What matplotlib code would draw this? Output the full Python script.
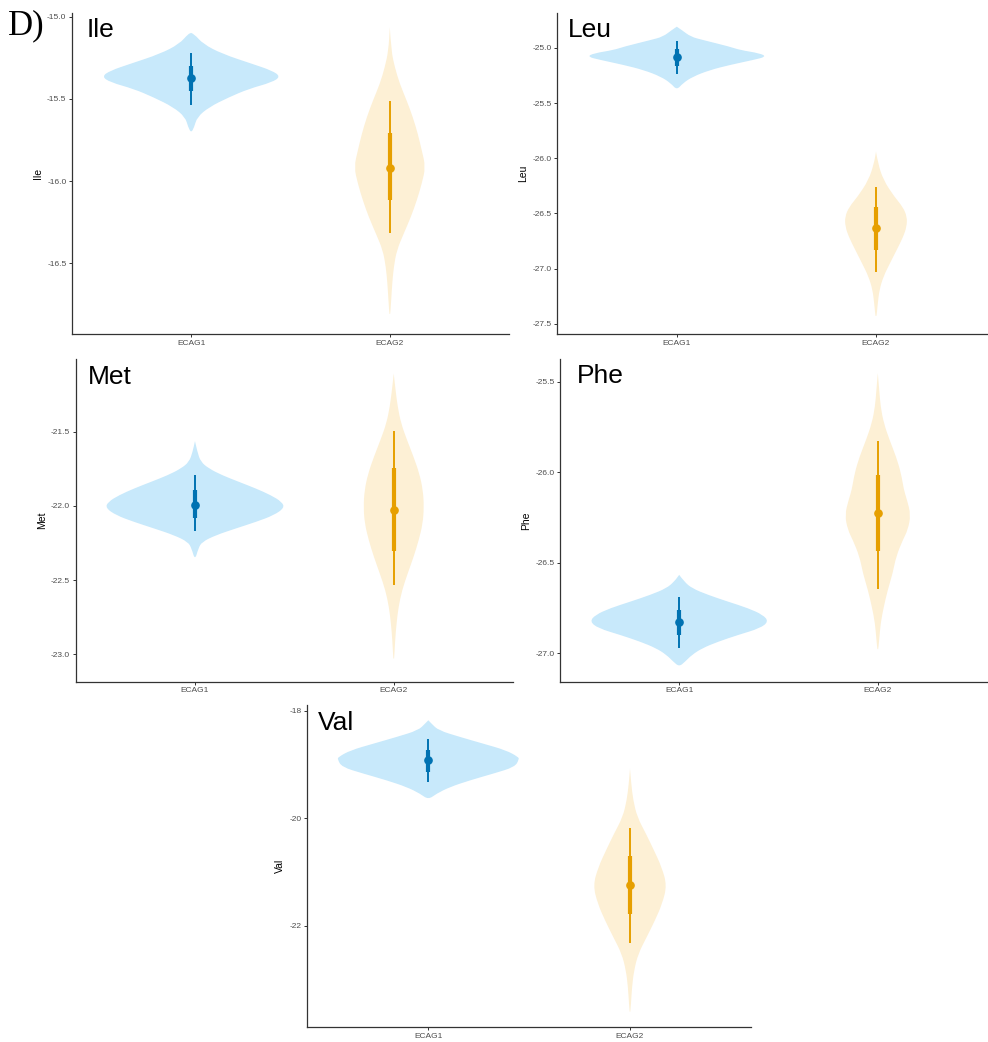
import matplotlib
matplotlib.use("Agg")
import matplotlib.pyplot as plt
from matplotlib.path import Path
from matplotlib.patches import PathPatch

plt.rcParams['font.family'] = ['Liberation Sans', 'DejaVu Sans']
plt.rcParams['axes.unicode_minus'] = False

groups = ["ECAG1", "ECAG2"]

# violin outlines: value along y, half width in category units
ile_g1_y = [-15.099, -15.105, -15.166, -15.226, -15.287, -15.328, -15.364, -15.399, -15.439, -15.49, -15.55, -15.611, -15.672, -15.706]
ile_g1_w = [0, 0.015, 0.06, 0.156, 0.307, 0.407, 0.45, 0.407, 0.29, 0.19, 0.09, 0.03, 0.015, 0]
ile_g2_y = [-15.065, -15.206, -15.307, -15.408, -15.51, -15.611, -15.712, -15.813, -15.914, -16.015, -16.117, -16.218, -16.319, -16.42, -16.521, -16.622, -16.723, -16.845]
ile_g2_w = [0, 0.007, 0.025, 0.05, 0.085, 0.116, 0.141, 0.161, 0.18, 0.161, 0.136, 0.106, 0.07, 0.035, 0.02, 0.012, 0.007, 0]

leu_g1_y = [-24.807, -24.837, -24.898, -24.927, -24.988, -25.018, -25.048, -25.079, -25.109, -25.154, -25.2, -25.26, -25.32, -25.381]
leu_g1_w = [0, 0.025, 0.07, 0.13, 0.266, 0.316, 0.417, 0.45, 0.382, 0.266, 0.166, 0.08, 0.03, 0]
leu_g2_y = [-25.94, -26.046, -26.197, -26.348, -26.439, -26.529, -26.62, -26.711, -26.831, -26.952, -27.073, -27.194, -27.315, -27.481]
leu_g2_w = [0, 0.01, 0.037, 0.092, 0.134, 0.156, 0.154, 0.137, 0.104, 0.07, 0.037, 0.017, 0.009, 0]

met_g1_y = [-21.564, -21.636, -21.703, -21.748, -21.793, -21.838, -21.883, -21.928, -21.973, -22.013, -22.063, -22.108, -22.152, -22.197, -22.243, -22.287, -22.366]
met_g1_w = [0, 0.012, 0.029, 0.07, 0.136, 0.221, 0.307, 0.382, 0.437, 0.45, 0.397, 0.307, 0.206, 0.106, 0.035, 0.017, 0]
met_g2_y = [-21.108, -21.22, -21.333, -21.445, -21.557, -21.67, -21.782, -21.894, -22.007, -22.119, -22.231, -22.344, -22.456, -22.568, -22.681, -22.793, -22.905, -23.085]
met_g2_w = [0, 0.009, 0.02, 0.037, 0.067, 0.1, 0.129, 0.147, 0.152, 0.146, 0.126, 0.1, 0.07, 0.042, 0.024, 0.014, 0.007, 0]

phe_g1_y = [-26.567, -26.604, -26.641, -26.678, -26.715, -26.751, -26.788, -26.825, -26.862, -26.899, -26.936, -26.972, -27.009, -27.046, -27.074]
phe_g1_w = [0, 0.025, 0.064, 0.146, 0.246, 0.347, 0.422, 0.45, 0.407, 0.296, 0.196, 0.116, 0.064, 0.03, 0]
phe_g2_y = [-25.453, -25.545, -25.638, -25.729, -25.822, -25.914, -26.006, -26.098, -26.153, -26.236, -26.319, -26.374, -26.466, -26.558, -26.65, -26.743, -26.834, -26.927, -27.0]
phe_g2_w = [0, 0.007, 0.014, 0.03, 0.059, 0.092, 0.117, 0.131, 0.147, 0.166, 0.151, 0.126, 0.092, 0.075, 0.05, 0.03, 0.014, 0.007, 0]

val_g1_y = [-18.178, -18.24, -18.364, -18.488, -18.612, -18.736, -18.86, -18.903, -19.046, -19.169, -19.294, -19.418, -19.541, -19.652]
val_g1_w = [0, 0.016, 0.05, 0.157, 0.272, 0.386, 0.446, 0.45, 0.429, 0.322, 0.206, 0.107, 0.041, 0]
val_g2_y = [-19.076, -19.355, -19.665, -19.976, -20.284, -20.595, -20.905, -21.245, -21.586, -21.896, -22.206, -22.515, -22.825, -23.136, -23.444, -23.662]
val_g2_w = [0, 0.006, 0.016, 0.036, 0.079, 0.119, 0.157, 0.183, 0.16, 0.124, 0.083, 0.041, 0.02, 0.01, 0.005, 0]

# point intervals: median, inner (lo, hi), outer (lo, hi)
ile_med = [-15.374, -15.918]
ile_in = [(-15.453, -15.303), (-16.117, -15.708)]
ile_out = [(-15.536, -15.223), (-16.315, -15.514)]
leu_med = [-25.084, -26.629]
leu_in = [(-25.163, -25.012), (-26.831, -26.444)]
leu_out = [(-25.238, -24.937), (-27.028, -26.257)]
met_med = [-21.991, -22.029]
met_in = [(-22.081, -21.894), (-22.303, -21.748)]
met_out = [(-22.171, -21.793), (-22.534, -21.495)]
phe_med = [-26.825, -26.227]
phe_in = [(-26.899, -26.761), (-26.433, -26.015)]
phe_out = [(-26.969, -26.687), (-26.646, -25.827)]
val_med = [-18.909, -21.245]
val_in = [(-19.139, -18.723), (-21.784, -20.706)]
val_out = [(-19.325, -18.519), (-22.31, -20.173)]

ile_ticks = [-15.0, -15.5, -16.0, -16.5]
leu_ticks = [-25.0, -25.5, -26.0, -26.5, -27.0, -27.5]
met_ticks = [-21.5, -22.0, -22.5, -23.0]
phe_ticks = [-25.5, -26.0, -26.5, -27.0]
val_ticks = [-18, -20, -22]

fill_cols = ["#c8e9fb", "#fdf0d5"]
pt_cols = ["#0072b2", "#e69f00"]

W, H = 988, 1042
fig = plt.figure(figsize=(W / 100, H / 100), dpi=100)


def px_axes(x0, y0, x1, y1):
    return fig.add_axes([x0 / W, 1 - y1 / H, (x1 - x0) / W, (y1 - y0) / H])


def smooth_violin(pos, yy, ww):
    # outline: down the right side, back up the left side, smoothed with quadratic curves
    pts = [(pos + w, y) for w, y in zip(ww, yy)] + \
          [(pos - w, y) for w, y in zip(ww[::-1], yy[::-1])][1:]
    verts = [pts[0]]
    codes = [Path.MOVETO]
    for i in range(1, len(pts) - 1):
        mid = ((pts[i][0] + pts[i + 1][0]) / 2, (pts[i][1] + pts[i + 1][1]) / 2)
        verts += [pts[i], mid]
        codes += [Path.CURVE3, Path.CURVE3]
    verts.append(pts[-1])
    codes.append(Path.LINETO)
    return Path(verts, codes)


def panel(rect, name, outlines, med, inner, outer, ticks, ylim, fmt, title_xy):
    ax = px_axes(*rect)
    for i, (yy, ww) in enumerate(outlines):
        pos = i + 1
        ax.add_patch(PathPatch(smooth_violin(pos, yy, ww), facecolor=fill_cols[i],
                               edgecolor='none', lw=0, zorder=1))
        ax.plot([pos, pos], outer[i], color=pt_cols[i], lw=1.4, solid_capstyle='butt', zorder=2)
        ax.plot([pos, pos], inner[i], color=pt_cols[i], lw=3.0, solid_capstyle='butt', zorder=3)
        ax.plot(pos, med[i], 'o', color=pt_cols[i], ms=5.2, zorder=4)
    ax.set_xlim(0.4, 2.6)
    ax.set_ylim(*ylim)
    ax.set_xticks([1, 2])
    ax.set_xticklabels(groups)
    ax.set_yticks(ticks)
    ax.set_yticklabels([fmt % t for t in ticks])
    for s in ['top', 'right']:
        ax.spines[s].set_visible(False)
    for s in ['left', 'bottom']:
        ax.spines[s].set_color('#333333')
        ax.spines[s].set_linewidth(0.9)
    ax.tick_params(length=2.5, width=0.7, color='#333333', labelsize=6,
                   labelcolor='#4d4d4d', pad=1.5)
    ax.set_ylabel(name, fontsize=7.5, labelpad=3)
    fig.text(title_xy[0] / W, 1 - title_xy[1] / H, name, fontsize=19, va='baseline', ha='left')
    return ax


panel((72, 12.7, 509, 334), "Ile", [(ile_g1_y, ile_g1_w), (ile_g2_y, ile_g2_w)],
      ile_med, ile_in, ile_out, ile_ticks, (-16.929, -14.976), "%.1f", (87, 37))
panel((557.3, 12.7, 995.5, 334), "Leu", [(leu_g1_y, leu_g1_w), (leu_g2_y, leu_g2_w)],
      leu_med, leu_in, leu_out, leu_ticks, (-27.593, -24.68), "%.1f", (567.7, 37))
panel((75.7, 359, 513, 681.7), "Met", [(met_g1_y, met_g1_w), (met_g2_y, met_g2_w)],
      met_med, met_in, met_out, met_ticks, (-23.185, -21.01), "%.1f", (88, 384))
panel((560, 359, 997, 681.7), "Phe", [(phe_g1_y, phe_g1_w), (phe_g2_y, phe_g2_w)],
      phe_med, phe_in, phe_out, phe_ticks, (-27.157, -25.375), "%.1f", (576.7, 383))
panel((307.3, 705, 751, 1027.3), "Val", [(val_g1_y, val_g1_w), (val_g2_y, val_g2_w)],
      val_med, val_in, val_out, val_ticks, (-23.883, -17.894), "%d", (318, 730))

fig.text(8 / W, 1 - 34 / H, "D)", fontsize=25, family=['Liberation Serif', 'DejaVu Serif'],
         va='baseline', ha='left')

fig.savefig("out.png", dpi=100)
